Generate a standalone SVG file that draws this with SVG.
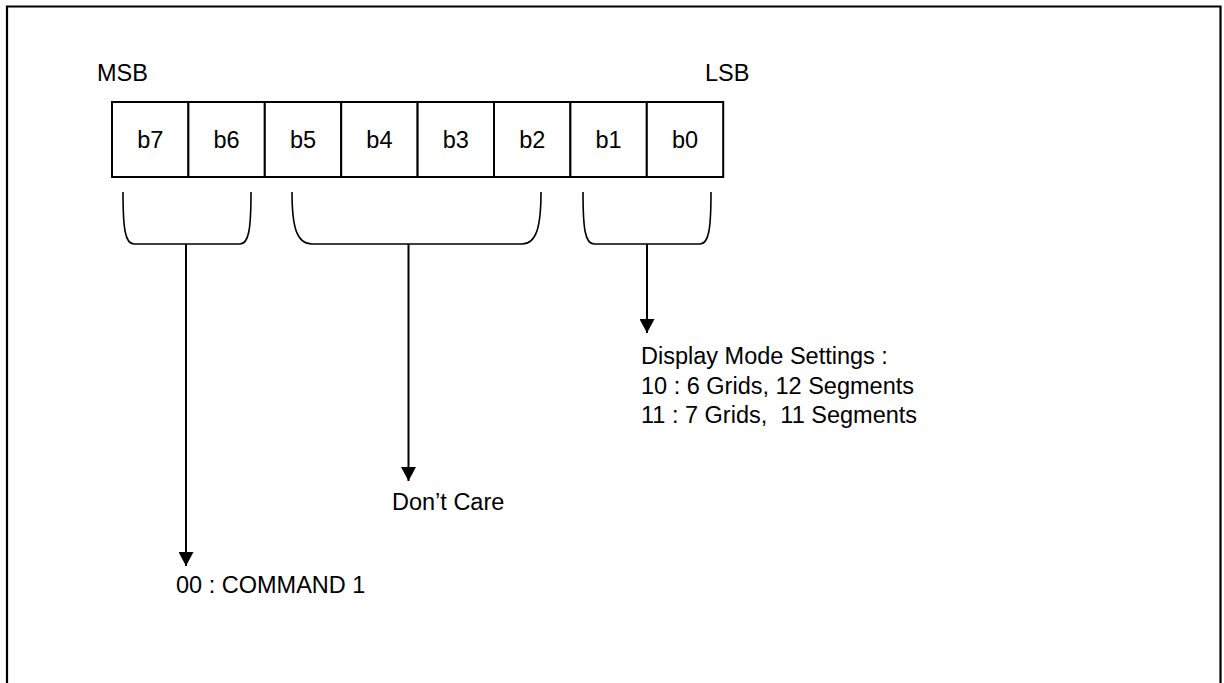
<svg xmlns="http://www.w3.org/2000/svg" width="1224" height="683" viewBox="0 0 1224 683">
<style>
text{font-family:"Liberation Sans",Arial,sans-serif;font-size:23.5px;fill:#000}
.cell{fill:#fff;stroke:#000;stroke-width:2}
.brace{fill:none;stroke:#000;stroke-width:1.6}
.stem{fill:none;stroke:#000;stroke-width:2}
.frame{fill:none;stroke:#000;stroke-width:2.2}
.c{text-anchor:middle}
</style>
<defs>
<marker id="arr" markerWidth="14" markerHeight="15" refX="14" refY="7.5" orient="auto" markerUnits="userSpaceOnUse" viewBox="0 0 14 15">
<path d="M0,0 L14,7.5 L0,15 Z" fill="#000"/>
</marker>
</defs>
<rect width="1224" height="683" fill="#fff"/>
<path class="frame" d="M7,683 V6.5 H1220.5 V683"/>
<g id="labels">
<text x="97" y="81">MSB</text>
<text x="705" y="81">LSB</text>
</g>
<g id="register">
<g id="b7"><rect class="cell" x="112" y="102" width="76.4" height="75"/><text class="c" x="150.2" y="148">b7</text></g>
<g id="b6"><rect class="cell" x="188.4" y="102" width="76.4" height="75"/><text class="c" x="226.6" y="148">b6</text></g>
<g id="b5"><rect class="cell" x="264.8" y="102" width="76.4" height="75"/><text class="c" x="303" y="148">b5</text></g>
<g id="b4"><rect class="cell" x="341.2" y="102" width="76.4" height="75"/><text class="c" x="379.4" y="148">b4</text></g>
<g id="b3"><rect class="cell" x="417.6" y="102" width="76.4" height="75"/><text class="c" x="455.8" y="148">b3</text></g>
<g id="b2"><rect class="cell" x="494" y="102" width="76.4" height="75"/><text class="c" x="532.2" y="148">b2</text></g>
<g id="b1"><rect class="cell" x="570.4" y="102" width="76.4" height="75"/><text class="c" x="608.6" y="148">b1</text></g>
<g id="b0"><rect class="cell" x="646.8" y="102" width="76.4" height="75"/><text class="c" x="685" y="148">b0</text></g>
</g>
<g id="braces">
<path class="brace" d="M123,192 C123,228 125,244 134,244 H240 C249,244 251,228 251,192"/>
<path class="brace" d="M292,192 C292,228 297,244 312,244 H522 C536,244 541,228 541,192"/>
<path class="brace" d="M583,192 C583,228 585,244 594,244 H700 C709,244 711,228 711,192"/>
</g>
<g id="connectors">
<line class="stem" x1="186" y1="244" x2="186" y2="566" marker-end="url(#arr)"/>
<line class="stem" x1="408.5" y1="244" x2="408.5" y2="481" marker-end="url(#arr)"/>
<line class="stem" x1="647" y1="244" x2="647" y2="333" marker-end="url(#arr)"/>
</g>
<g id="command"><text x="176" y="593">00 : COMMAND 1</text></g>
<g id="dontcare"><text x="392" y="510">Don’t Care</text></g>
<g id="display">
<text x="641" y="364">Display Mode Settings :</text>
<text x="641" y="393.5">10 : 6 Grids, 12 Segments</text>
<text x="641" y="423" xml:space="preserve">11 : 7 Grids,  11 Segments</text>
</g>
</svg>
